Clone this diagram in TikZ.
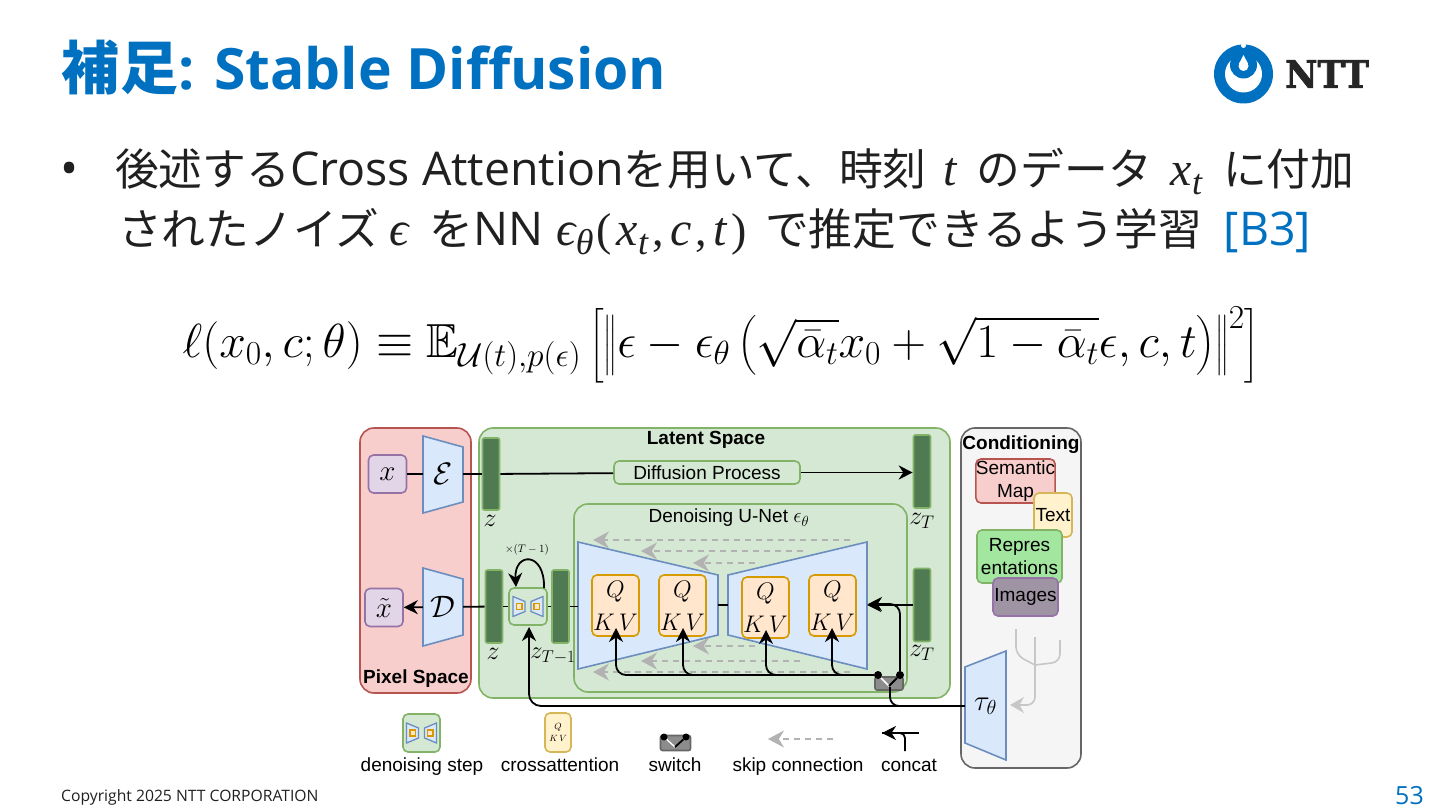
\documentclass[tikz,border=0pt]{standalone}
\usepackage{fix-cm}
\usepackage{amsmath,amssymb}
\usepackage{exscale}
\usepackage{fontspec}
\setmainfont{Open Sans}
\newfontfamily\jp{Noto Sans CJK JP}
\newfontfamily\lab{Liberation Sans}
\newfontfamily\mth{Liberation Serif}
\newfontfamily\logofont{DejaVu Serif}[BoldFeatures={FakeBold=2}]
\usetikzlibrary{calc, arrows.meta, positioning}
\definecolor{nttblue}{HTML}{0070C0}
\definecolor{bodytext}{HTML}{202020}
\definecolor{pinkfill}{HTML}{F8CECC}
\definecolor{pinkline}{HTML}{B85450}
\definecolor{greenfill}{HTML}{D5E8D4}
\definecolor{greenline}{HTML}{82B366}
\definecolor{barfill}{HTML}{4F7A52}
\definecolor{purplefill}{HTML}{E1D5E7}
\definecolor{purpleline}{HTML}{9673A6}
\definecolor{bluefill}{HTML}{DAE8FC}
\definecolor{blueline}{HTML}{6C8EBF}
\definecolor{orangefill}{HTML}{FFE6CC}
\definecolor{orangeline}{HTML}{D79B00}
\definecolor{yellowfill}{HTML}{FFF2CC}
\definecolor{yellowline}{HTML}{D6B656}
\definecolor{reprfill}{HTML}{A3E69F}
\definecolor{imgfill}{HTML}{9E94A4}
\newcommand{\fs}[1]{\fontsize{#1}{1.25\dimexpr#1pt\relax}\selectfont}
\newcommand{\ja}[1]{{\jp\fs{43.75}#1}}
\newcommand{\mv}[1]{{\mth\itshape\fs{48}#1}}
\newcommand{\mvs}[1]{\raisebox{-9pt}{\mth\itshape\fs{36}#1}}
\newcommand{\mup}[1]{{\mth\fs{46}#1}}
\tikzset{
    panel/.style={rounded corners=14pt, line width=1.6pt, inner sep=0pt},
    box/.style={rounded corners=5pt, line width=1.6pt, inner sep=0pt, align=center, font=\lab\fs{19}},
    zbar/.style={draw=greenline, fill=barfill, rounded corners=2pt, line width=1.6pt, minimum width=17pt, inner sep=0pt},
    qkv/.style={box, draw=orangeline, fill=orangefill, minimum width=47pt, minimum height=61pt, font=\fs{24}},
    trap/.style={draw=blueline, fill=bluefill, line width=1.6pt},
    lbl/.style={font=\lab\fs{19}, inner sep=0pt},
    leglbl/.style={lbl, anchor=base},
    mlbl/.style={font=\fs{26}, inner sep=0pt},
    conn/.style={draw=black, line width=1.8pt, -{Stealth[length=14pt,width=14pt]}},
    wire/.style={draw=black, line width=1.8pt},
    skipconn/.style={draw=black!30, line width=1.5pt, dash pattern=on 6pt off 5pt, -{Stealth[length=16pt,width=17pt]}},
    tree/.style={draw=black!22, line width=1.6pt, rounded corners=8pt},
    dot/.style={circle, fill=black, inner sep=0pt, minimum size=8pt},
    denoiseicon/.pic={
        \draw[draw=blueline, fill=bluefill, line width=1.3pt] (-15,-10) -- (-3,-5) -- (-3,5) -- (-15,10) -- cycle;
        \draw[draw=blueline, fill=bluefill, line width=1.3pt] (15,-10) -- (3,-5) -- (3,5) -- (15,10) -- cycle;
        \draw[draw=orangeline, fill=orangefill, line width=1.2pt] (-11.5,-3) rectangle (-6,3);
        \draw[draw=orangeline, fill=orangefill, line width=1.2pt] (11.5,-3) rectangle (6,3);
    },
}
\begin{document}
\begin{tikzpicture}[x=1pt, y=-1pt]
    \useasboundingbox[fill=white] (0,0) rectangle (1440,810);
    % slide header
    \node[anchor=west, text=nttblue, inner sep=0pt] (title) at (61,68) {\fs{57}\bfseries{\jp\fs{58}補\kern1pt足}: Stable Diffusion};
    \fill[nttblue] (1243.5,74) circle (29.5);
    \fill[white] (1243.5,74) circle (18.5);
    \fill[nttblue] (1243.5,65) circle (13.5);
    \fill[nttblue] (1234,46) rectangle (1253,60);
    \fill[white] (1243.5,45.5) circle (2.5);
    \fill[white] (1243.5,66) circle (5);
    \fill[white] (1243.5,55) -- (1238.8,64) -- (1248.2,64) -- cycle;
    \node[anchor=west, inner sep=0pt, xscale=.93, text=black!85] (ntt) at (1285,74) {\logofont\fs{38}\bfseries NTT};
    % bullet text
    \node[anchor=base west, inner sep=0pt, text=bodytext] (bullet) at (60,186) {\fs{48}•};
    \node[anchor=base west, inner sep=0pt, text=bodytext] (line1) at (115,186) {\fs{46.5}\ja{後述する}Cross Attention\ja{を用いて、時刻}\hspace{17pt}\mv{t}\hspace{20pt}\ja{のデータ}\hspace{19pt}\mv{x}\mvs{t}\hspace{21pt}\ja{に付加}};
    \node[anchor=base west, inner sep=0pt, text=bodytext] (line2) at (118,246) {\fs{46.5}\ja{されたノイズ}\hspace{10pt}\mv{ϵ}\hspace{21pt}\ja{を}NN\hspace{13pt}\mv{ϵ}\mvs{θ}\hspace{3pt}\mup{(}\hspace{5pt}\mv{x}\mvs{t}\hspace{4pt}\mup{,}\hspace{7pt}\mv{c}\hspace{3pt}\mup{,}\hspace{7pt}\mv{t}\hspace{5pt}\mup{)}\hspace{18pt}\ja{で推定できるよう学習}\hspace{22pt}\textcolor{nttblue}{[B3]}};
    \node[inner sep=0pt] (loss) at (721,345) {\fs{47.8}$\displaystyle \ell(x_0,c;\theta)\equiv\mathbb{E}_{\mathcal{U}(t),p(\epsilon)}\left[\left\|\epsilon-\epsilon_\theta\left(\sqrt{\bar{\alpha}_t}x_0+\sqrt{1-\bar{\alpha}_t}\epsilon,c,t\right)\right\|^2\right]$};
    % panels
    \draw[panel, draw=pinkline, fill=pinkfill] (360,428) rectangle (471,693);
    \draw[panel, draw=greenline, fill=greenfill] (479,428) rectangle (950,698);
    \draw[panel, draw=black!60, fill=black!4] (961,428) rectangle (1081,768);
    \draw[panel, draw=greenline, fill=greenfill] (574,504) rectangle (907,692);
    \node[lbl, font=\lab\bfseries\fs{19}] (pixel) at (416,679) {Pixel Space};
    \node[lbl, font=\lab\bfseries\fs{19}] (latent) at (706,440) {Latent Space};
    \node[lbl, font=\lab\bfseries\fs{19}] (cond) at (1021,445) {Conditioning};
    \node[lbl] (unetlbl) at (729,518) {Denoising U-Net \fs{21}$\epsilon_\theta$};
    % encoder, decoder
    \draw[trap] (423,436) -- (463,447) -- (463,502) -- (423,513) -- cycle;
    \draw[trap] (423,568) -- (463,579) -- (463,635) -- (423,646) -- cycle;
    \node[minimum width=40pt, minimum height=60pt, inner sep=0pt, font=\fs{31}] (enc) at (443,474) {$\mathcal{E}$};
    \node[minimum width=40pt, minimum height=60pt, inner sep=0pt, font=\fs{31}] (dec) at (443,607) {$\mathcal{D}$};
    \node[box, draw=purpleline, fill=purplefill, minimum width=38pt, minimum height=38pt, font=\fs{29}] (xin) at (387.5,474) {$x$};
    \node[box, draw=purpleline, fill=purplefill, minimum width=38pt, minimum height=38pt, font=\fs{29}] (xout) at (384,607.5) {$\tilde{x}$};
    % latent bars
    \node[zbar, minimum height=72pt] (za) at (491,474) {};
    \node[zbar, minimum height=73pt] (zb) at (494,606.5) {};
    \node[zbar, minimum height=73pt] (zc) at (560.5,606.5) {};
    \node[zbar, minimum height=73pt] (zta) at (922,471.5) {};
    \node[zbar, minimum height=73pt] (ztb) at (922,605) {};
    \node[mlbl] (zalbl) at (490,521) {$z$};
    \node[mlbl] (zblbl) at (493,654) {$z$};
    \node[mlbl, font=\fs{24.5}] (zclbl) at (553,656) {$z_{T-1}$};
    \node[mlbl] (ztalbl) at (922,521) {$z_T$};
    \node[mlbl] (ztblbl) at (922,653) {$z_T$};
    \node[box, draw=greenline, fill=greenfill, minimum width=186pt, minimum height=23pt] (diff) at (707,472.5) {Diffusion Process};
    \draw[wire] (xin) -- (enc);
    \draw[wire] (enc) -- (za);
    \draw[wire] (za) -- (diff);
    \draw[conn] (diff) -- (zta.west |- diff);
    \draw[conn] (dec) -- (xout);
    \draw[wire] (zb) -- (dec);
    % denoising step
    \node[box, draw=greenline, fill=greenfill, minimum width=38pt, minimum height=37pt] (dstep) at (528,606.5) {};
    \pic at (dstep) {denoiseicon};
    \draw[wire] (dstep) -- (zb);
    \draw[wire] (dstep) -- (zc);
    \coordinate (loopa) at (544,588);
    \coordinate (loopb) at (516,587);
    \draw[conn] (loopa) .. controls (545,551) and (514,552) .. (loopb);
    \node[lbl, font=\fs{11}] (times) at (527,550) {$\times(T-1)$};
    % skip connections
    \foreach \n/\xa/\xb/\y in {a/850/593/540, b/803/641/551, c/755/693/563, d/850/593/672, e/800/641/661, f/755/693/646} {
        \coordinate (skipa\n) at (\xa,\y);
        \coordinate (skipb\n) at (\xb,\y);
        \draw[skipconn] (skipa\n) -- (skipb\n);
    }
    % u-net
    \draw[trap] (578,542) -- (718,575) -- (718,635) -- (578,669) -- cycle;
    \draw[trap] (867,542) -- (728,575) -- (728,635) -- (867,669) -- cycle;
    \node[minimum width=140pt, minimum height=60pt, inner sep=0pt] (unetl) at (648,605) {};
    \node[minimum width=139pt, minimum height=60pt, inner sep=0pt] (unetr) at (797.5,605) {};
    \draw[wire] (unetl) -- (unetr);
    \draw[wire] (zc) -- (zc -| unetl.west);
    \draw[conn] (ztb) -- (unetr.east |- ztb);
    \node[qkv] (qkva) at (615.5,605.5) {$Q$\\[3pt]$K\,V$};
    \node[qkv] (qkvb) at (682.5,605.5) {$Q$\\[3pt]$K\,V$};
    \node[qkv] (qkvc) at (765.5,607.5) {$Q$\\[3pt]$K\,V$};
    \node[qkv] (qkvd) at (832.5,605.5) {$Q$\\[3pt]$K\,V$};
    % switch
    \node[box, draw=black!60, fill=black!45, minimum width=28pt, minimum height=13pt, rounded corners=2pt] (sw) at (889,683.5) {};
    \node[dot] (swa) at (878,675) {};
    \node[dot] (swb) at (900,675) {};
    \coordinate (swm) at (889,686);
    \draw[white, line width=1.5pt] (swa) -- (swm);
    \draw[wire] (swb) -- (swm);
    \coordinate (ina) at (616,628);
    \coordinate (inb) at (683,628);
    \coordinate (inc) at (766,630);
    \coordinate (ind) at (832,628);
    \draw[conn, rounded corners=10pt] (swa) -| (ina);
    \draw[conn, rounded corners=10pt] (swa) -| (inb);
    \draw[conn, rounded corners=10pt] (swa) -| (inc);
    \draw[conn, rounded corners=10pt] (swa) -| (ind);
    \coordinate (inu) at (868,604);
    \draw[conn, rounded corners=10pt] (swb) |- (inu);
    % conditioning
    \draw[trap] (965,667) -- (1006,651) -- (1006,760) -- (965,743) -- cycle;
    \node[minimum width=41pt, minimum height=70pt, inner sep=0pt, font=\fs{29}] (tau) at (985.5,706) {$\tau_\theta$};
    \coordinate (stepin) at (529,627);
    \draw[conn, rounded corners=12pt] (tau) -| (stepin);
    \coordinate (swout) at (890,687);
    \draw[wire, rounded corners=9pt] (tau.west) -| (swout);
    \node[box, draw=pinkline, fill=pinkfill, minimum width=77pt, minimum height=44pt] (semmap) at (1015.5,481) {Semantic\\Map};
    \node[box, draw=yellowline, fill=yellowfill, minimum width=38pt, minimum height=44pt] (textbox) at (1053,515) {Text};
    \node[box, draw=greenline, fill=reprfill, minimum width=85pt, minimum height=53pt] (reprbox) at (1019.5,556.5) {Repres\\entations};
    \node[box, draw=purpleline, fill=imgfill, minimum width=65pt, minimum height=38pt] (imgbox) at (1025.5,597) {Images};
    \coordinate (treea) at (1016,629);
    \coordinate (treeb) at (1035,637);
    \coordinate (treec) at (1060,640);
    \coordinate (treed) at (1035,665);
    \coordinate (treee) at (1010,705);
    \draw[tree, -{Stealth[length=14pt,width=16pt]}] (treeb) |- (treee);
    \draw[tree] (treea) -- (1016,655) -- (treed);
    \draw[tree] (treec) -- (1060,662) -- (treed);
    % legend
    \node[box, draw=greenline, fill=greenfill, minimum width=37pt, minimum height=38pt] (legstep) at (421.5,733) {};
    \pic at (legstep) {denoiseicon};
    \node[leglbl] (legstepl) at (422,771) {denoising step};
    \node[box, draw=yellowline, fill=yellowfill, minimum width=26pt, minimum height=39pt, font=\fs{9}] (legq) at (558,732.5) {$Q$\\[1pt]$K\,V$};
    \node[leglbl] (legql) at (560,771) {crossattention};
    \node[box, draw=black!60, fill=black!45, minimum width=30pt, minimum height=15pt, rounded corners=2pt] (legsw) at (675.5,743) {};
    \node[dot, minimum size=7pt] (legswa) at (664,737) {};
    \node[dot, minimum size=7pt] (legswb) at (686,737) {};
    \coordinate (legswm) at (675,747);
    \draw[white, line width=1.4pt] (legswa) -- (legswm);
    \draw[wire] (legswb) -- (legswm);
    \node[leglbl] (legswl) at (675,771) {switch};
    \coordinate (legska) at (833,739);
    \coordinate (legskb) at (768,739);
    \draw[skipconn] (legska) -- (legskb);
    \node[leglbl] (legskl) at (798,771) {skip connection};
    \coordinate (legcona) at (919,733);
    \coordinate (legconb) at (882,733);
    \coordinate (legconc) at (905,751);
    \draw[conn] (legcona) -- (legconb);
    \draw[wire, rounded corners=5pt] (legconc) |- (legconb);
    \node[leglbl] (legconl) at (909,771) {concat};
    % footer
    \node[anchor=west, inner sep=0pt, text=bodytext] (copy) at (61,797) {\fs{15.7}Copyright 2025 NTT CORPORATION};
    \node[anchor=east, inner sep=0pt, text=nttblue] (pageno) at (1424,796) {\fs{25}53};
\end{tikzpicture}
\end{document}
